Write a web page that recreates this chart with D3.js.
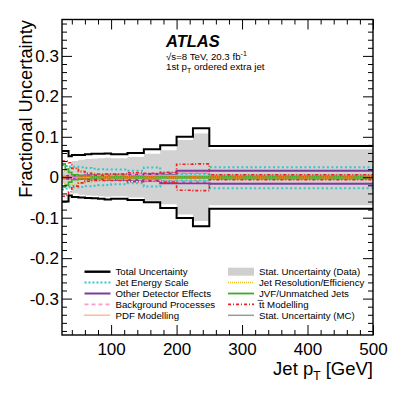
<!DOCTYPE html>
<html>
<head>
<meta charset="utf-8">
<script src="https://cdn.jsdelivr.net/npm/d3@7"></script>
<style>
  body { margin: 0; background: #fff; }
  text { font-family: 'Liberation Sans', Arial, Helvetica, sans-serif; }
</style>
</head>
<body>
<div id="chart"></div>
<script>
// bin edges in jet pT [GeV]
const binEdges = [25, 30, 35, 40, 50, 60, 70, 80, 90, 100, 125, 150, 175, 200, 225, 250, 500];

// fractional uncertainties per bin (up / down)
const totalUp = [0.065, 0.065, 0.052, 0.055, 0.055, 0.057, 0.058, 0.058, 0.059, 0.057, 0.060, 0.069, 0.079, 0.100, 0.121, 0.077];
const totalDown = [-0.060, -0.060, -0.045, -0.049, -0.050, -0.051, -0.052, -0.053, -0.055, -0.053, -0.056, -0.062, -0.076, -0.101, -0.121, -0.078];
const statData = [0.015, 0.020, 0.030, 0.040, 0.043, 0.045, 0.046, 0.047, 0.048, 0.047, 0.050, 0.058, 0.067, 0.092, 0.108, 0.069];
const jesUp = [0.030, 0.028, 0.025, 0.026, 0.025, 0.023, 0.021, 0.020, 0.019, 0.019, 0.016, 0.024, 0.009, 0.008, 0.008, 0.025];
const jesDown = [-0.030, -0.028, -0.024, -0.025, -0.024, -0.022, -0.021, -0.020, -0.019, -0.017, -0.015, -0.023, -0.010, -0.008, -0.008, -0.027];
const otherUp = [0.003, 0.003, 0.004, 0.004, 0.004, 0.005, 0.005, 0.005, 0.006, 0.006, 0.006, 0.008, 0.009, 0.016, 0.016, 0.016];
const otherDown = [-0.003, -0.003, -0.004, -0.004, -0.004, -0.005, -0.005, -0.005, -0.006, -0.006, -0.007, -0.008, -0.015, -0.015, -0.015, -0.016];
const bkgUp = [0.004, 0.004, 0.004, 0.004, 0.004, 0.004, 0.004, 0.004, 0.004, 0.005, 0.006, 0.008, 0.010, 0.011, 0.011, 0.003];
const bkgDown = [-0.004, -0.004, -0.004, -0.004, -0.004, -0.004, -0.004, -0.004, -0.004, -0.005, -0.006, -0.008, -0.010, -0.011, -0.011, -0.003];
const pdfUp = [0.002, 0.002, 0.002, 0.002, 0.002, 0.002, 0.002, 0.002, 0.002, 0.002, 0.002, 0.002, 0.002, 0.002, 0.002, 0.002];
const pdfDown = [-0.002, -0.002, -0.002, -0.002, -0.002, -0.002, -0.002, -0.002, -0.002, -0.002, -0.002, -0.002, -0.002, -0.002, -0.002, -0.002];
const jerUp = [0.015, 0.018, 0.022, 0.022, 0.016, 0.012, 0.010, 0.008, 0.006, 0.005, 0.004, 0.004, 0.003, 0.003, 0.003, 0.002];
const jerDown = [-0.015, -0.018, -0.020, -0.020, -0.015, -0.012, -0.010, -0.008, -0.006, -0.005, -0.004, -0.004, -0.003, -0.003, -0.003, -0.002];
const jvfUp = [0.033, 0.020, 0.012, 0.006, 0.004, 0.003, 0.002, 0.002, 0.002, 0.002, 0.002, 0.002, 0.002, 0.002, 0.002, 0.002];
const jvfDown = [-0.024, -0.020, -0.012, -0.006, -0.004, -0.003, -0.002, -0.002, -0.002, -0.002, -0.002, -0.002, -0.002, -0.002, -0.002, -0.002];
const ttUp = [0.040, 0.040, 0.036, 0.022, 0.014, 0.010, 0.008, 0.008, 0.008, 0.008, 0.011, 0.010, 0.012, 0.032, 0.033, 0.006];
const ttDown = [-0.047, -0.045, -0.036, -0.022, -0.014, -0.010, -0.008, -0.008, -0.008, -0.008, -0.011, -0.010, -0.012, -0.032, -0.033, -0.006];
const statMC = [0.004, 0.004, 0.004, 0.004, 0.004, 0.004, 0.004, 0.004, 0.005, 0.005, 0.006, 0.007, 0.008, 0.010, 0.010, 0.005];

const yMajorTicks = [-0.3, -0.2, -0.1, 0, 0.1, 0.2, 0.3];
const xMajorTicks = [100, 200, 300, 400, 500];

const legendLeft = ['Total Uncertainty', 'Jet Energy Scale', 'Other Detector Effects', 'Background Processes', 'PDF Modelling'];
const legendRight = ['Stat. Uncertainty (Data)', 'Jet Resolution/Efficiency', 'JVF/Unmatched Jets', 't\u0305t Modelling', 'Stat. Uncertainty (MC)'];

// dimensions
let dimensions = {
  width: 415,
  height: 399,
  margin: { top: 19.5, right: 42, bottom: 64, left: 62 },
};
dimensions.boundedWidth = dimensions.width - dimensions.margin.left - dimensions.margin.right;
dimensions.boundedHeight = dimensions.height - dimensions.margin.top - dimensions.margin.bottom;

// scales
const xScale = d3.scaleLinear().domain([25, 500]).range([0, dimensions.boundedWidth]);
const yScale = d3.scaleLinear().domain([-0.39, 0.39]).range([dimensions.boundedHeight, 0]);

const wrapper = d3.select('#chart')
  .append('svg')
  .attr('width', dimensions.width)
  .attr('height', dimensions.height);

const bounds = wrapper.append('g')
  .attr('transform', `translate(${dimensions.margin.left},${dimensions.margin.top})`);

bounds.append('clipPath').attr('id', 'clip')
  .append('rect').attr('width', dimensions.boundedWidth).attr('height', dimensions.boundedHeight);

const plot = bounds.append('g').attr('clip-path', 'url(#clip)');

// step helpers
const stepPoints = (vals) => {
  const pts = vals.map((v, i) => [binEdges[i], v]);
  pts.push([binEdges[binEdges.length - 1], vals[vals.length - 1]]);
  return pts;
};
const stepLine = d3.line()
  .x((d) => xScale(d[0]))
  .y((d) => yScale(d[1]))
  .curve(d3.curveStepAfter);
const stepArea = d3.area()
  .x((d) => xScale(d[0]))
  .y0((d) => yScale(-d[1]))
  .y1((d) => yScale(d[1]))
  .curve(d3.curveStepAfter);

// stat uncertainty (data) band
plot.append('path')
  .attr('d', stepArea(stepPoints(statData)))
  .attr('fill', '#d2d2d2');

const components = [
  { up: statMC, down: statMC.map((v) => -v), color: '#9a9a9a', width: 1.5, dash: null },
  { up: jesUp, down: jesDown, color: '#33c6cc', width: 2, dash: '2,2.5' },
  { up: otherUp, down: otherDown, color: '#7a3d9a', width: 2, dash: null },
  { up: bkgUp, down: bkgDown, color: '#ff99cc', width: 1.6, dash: '4,3' },
  { up: jerUp, down: jerDown, color: '#e8c020', width: 1.5, dash: '1,1' },
  { up: jvfUp, down: jvfDown, color: '#3aac2a', width: 1.6, dash: null },
  { up: pdfUp, down: pdfDown, color: '#ff7a1a', width: 1.5, dash: '1,1.2' },
  { up: ttUp, down: ttDown, color: '#ee2222', width: 1.6, dash: '3,2,1,2' },
];

components.forEach((c) => {
  [c.up, c.down].forEach((vals) => {
    plot.append('path')
      .attr('d', stepLine(stepPoints(vals)))
      .attr('fill', 'none')
      .attr('stroke', c.color)
      .attr('stroke-width', c.width)
      .attr('stroke-dasharray', c.dash);
  });
});

// total uncertainty
[totalUp, totalDown].forEach((vals) => {
  plot.append('path')
    .attr('d', stepLine(stepPoints(vals)))
    .attr('fill', 'none')
    .attr('stroke', '#000')
    .attr('stroke-width', 2);
});

// axes
const yMinorTicks = d3.range(-38, 39, 2).map((v) => v / 100).filter((v) => Math.round(v * 100) % 10 !== 0);
const xMinorTicks = d3.range(40, 500, 20).filter((v) => v % 100 !== 0);

const styleAxis = (g) => {
  g.select('.domain').remove();
  g.selectAll('line').attr('stroke', '#000').attr('stroke-width', 1);
};

bounds.append('g')
  .call(d3.axisLeft(yScale).tickValues(yMajorTicks).tickSize(-10).tickPadding(3)
    .tickFormat((d) => (d === 0 ? '0' : d.toFixed(1))))
  .call(styleAxis)
  .call((g) => g.selectAll('text').attr('font-size', 17).attr('fill', '#000')
    .attr('font-family', "'Liberation Sans', Arial, sans-serif"));
bounds.append('g')
  .call(d3.axisLeft(yScale).tickValues(yMinorTicks).tickSize(-5).tickFormat(''))
  .call(styleAxis);
bounds.append('g')
  .attr('transform', `translate(${dimensions.boundedWidth},0)`)
  .call(d3.axisRight(yScale).tickValues(yMajorTicks).tickSize(-10).tickFormat(''))
  .call(styleAxis);
bounds.append('g')
  .attr('transform', `translate(${dimensions.boundedWidth},0)`)
  .call(d3.axisRight(yScale).tickValues(yMinorTicks).tickSize(-5).tickFormat(''))
  .call(styleAxis);

bounds.append('g')
  .attr('transform', `translate(0,${dimensions.boundedHeight})`)
  .call(d3.axisBottom(xScale).tickValues(xMajorTicks).tickSize(-10).tickPadding(8).tickFormat(d3.format('d')))
  .call(styleAxis)
  .call((g) => g.selectAll('text').attr('font-size', 17).attr('fill', '#000')
    .attr('font-family', "'Liberation Sans', Arial, sans-serif"));
bounds.append('g')
  .attr('transform', `translate(0,${dimensions.boundedHeight})`)
  .call(d3.axisBottom(xScale).tickValues(xMinorTicks).tickSize(-5).tickFormat(''))
  .call(styleAxis);
bounds.append('g')
  .call(d3.axisTop(xScale).tickValues(xMajorTicks).tickSize(-10).tickFormat(''))
  .call(styleAxis);
bounds.append('g')
  .call(d3.axisTop(xScale).tickValues(xMinorTicks).tickSize(-5).tickFormat(''))
  .call(styleAxis);

// frame
bounds.append('rect')
  .attr('width', dimensions.boundedWidth)
  .attr('height', dimensions.boundedHeight)
  .attr('fill', 'none')
  .attr('stroke', '#000')
  .attr('stroke-width', 1.4);

// axis titles
const xTitle = wrapper.append('text')
  .attr('x', dimensions.margin.left + dimensions.boundedWidth)
  .attr('y', 375)
  .attr('text-anchor', 'end')
  .attr('font-size', 18.5);
xTitle.append('tspan').text('Jet p');
xTitle.append('tspan').attr('font-size', 12).attr('dy', 5).text('T');
xTitle.append('tspan').attr('dy', -5).text(' [GeV]');

wrapper.append('text')
  .attr('transform', `translate(32,${dimensions.margin.top + 0.5}) rotate(-90)`)
  .attr('text-anchor', 'end')
  .attr('font-size', 18.3)
  .text('Fractional Uncertainty');

// ATLAS label
wrapper.append('text')
  .attr('x', 166).attr('y', 47)
  .attr('font-size', 16.5)
  .attr('font-weight', 'bold')
  .attr('font-style', 'italic')
  .text('ATLAS');
const energy = wrapper.append('text')
  .attr('x', 166).attr('y', 59.5)
  .attr('font-size', 9.7);
energy.append('tspan').text('\u221As=8 TeV, 20.3 fb');
energy.append('tspan').attr('font-size', 7).attr('dy', -4).text('-1');
const sel = wrapper.append('text')
  .attr('x', 166).attr('y', 69.5)
  .attr('font-size', 9.7);
sel.append('tspan').text('1st p');
sel.append('tspan').attr('font-size', 7).attr('dy', 3).text('T');
sel.append('tspan').attr('dy', -3).text(' ordered extra jet');

// legend
const legendStyles = {
  'Total Uncertainty': { color: '#000', width: 2.4, dash: null },
  'Jet Energy Scale': { color: '#33c6cc', width: 2, dash: '2,2' },
  'Other Detector Effects': { color: '#7a3d9a', width: 2, dash: null },
  'Background Processes': { color: '#ff99cc', width: 1.6, dash: '4,3' },
  'PDF Modelling': { color: '#ff7a1a', width: 1.5, dash: '1,1' },
  'Stat. Uncertainty (Data)': { box: '#cfcfcf' },
  'Jet Resolution/Efficiency': { color: '#e8c020', width: 1.5, dash: '1,1' },
  'JVF/Unmatched Jets': { color: '#3aac2a', width: 1.8, dash: null },
  't\u0305t Modelling': { color: '#ee2222', width: 1.6, dash: '3,2,1,2' },
  'Stat. Uncertainty (MC)': { color: '#9a9a9a', width: 1.5, dash: null },
};

const drawLegend = (names, x0) => {
  names.forEach((name, i) => {
    const y = 271.7 + i * 10.9;
    const s = legendStyles[name];
    if (s.box) {
      wrapper.append('rect')
        .attr('x', x0).attr('y', y - 4)
        .attr('width', 26).attr('height', 8)
        .attr('fill', s.box);
    } else {
      wrapper.append('line')
        .attr('x1', x0).attr('x2', x0 + 26)
        .attr('y1', y).attr('y2', y)
        .attr('stroke', s.color)
        .attr('stroke-width', s.width)
        .attr('stroke-dasharray', s.dash);
    }
    wrapper.append('text')
      .attr('x', x0 + 31).attr('y', y + 3.5)
      .attr('font-size', 9.7)
      .text(name);
  });
};
drawLegend(legendLeft, 84.5);
drawLegend(legendRight, 228);
</script>
</body>
</html>
